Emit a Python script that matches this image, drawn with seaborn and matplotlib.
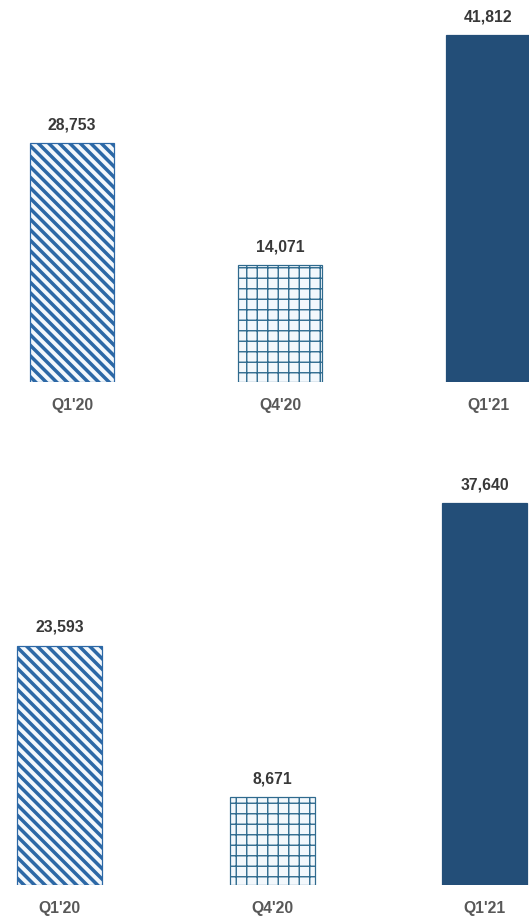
import matplotlib
matplotlib.use("Agg")
import matplotlib.pyplot as plt
import seaborn as sns

# Quarterly figures for the two panels
quarters = ["Q1'20", "Q4'20", "Q1'21"]
top_values = [28753, 14071, 41812]
bottom_values = [23593, 8671, 37640]

hatches = ["\\\\", "+", ""]
face_colors = ["#f3f8fc", "#f3f8fc", "#234e78"]
hatch_colors = ["#2c68a6", "#2f6a8e", "#234e78"]

DPI = 63
W, H = 529, 917

sns.set_theme(style="white")
plt.rcParams["font.family"] = ["Liberation Sans Narrow", "Liberation Sans", "DejaVu Sans"]

fig = plt.figure(figsize=(W / DPI, H / DPI), dpi=DPI)
fig.patch.set_facecolor("white")


def panel(rect, values, xlim, ymax, width):
    ax = fig.add_axes(rect)
    sns.barplot(x=quarters, y=values, hue=quarters, palette=face_colors,
                width=width, legend=False, saturation=1, ax=ax)
    for bar, h, hc in zip(ax.patches, hatches, hatch_colors):
        bar.set_hatch(h)
        bar.set_edgecolor(hc)
        bar.set_linewidth(1.4)
        if hasattr(bar, "set_hatch_linewidth"):
            bar.set_hatch_linewidth(4.0 if h.startswith("\\") else 1.6)
    for cont in ax.containers:
        ax.bar_label(cont, labels=[f"{v:,.0f}" for v in cont.datavalues],
                     padding=12.5, fontsize=18, fontweight="bold", color="#383838")
    ax.set_xlim(*xlim)
    ax.set_ylim(0, ymax)
    ax.set_yticks([])
    ax.set_xlabel("")
    ax.set_ylabel("")
    ax.tick_params(axis="x", length=0, pad=18, labelsize=18, labelcolor="#585858")
    for lab in ax.get_xticklabels():
        lab.set_fontweight("bold")
    for s in ax.spines.values():
        s.set_visible(False)
    ax.set_facecolor("none")
    return ax


plt.rcParams["hatch.linewidth"] = 2.5

# Upper panel: baseline at 382 px from the top, axes reaching the top edge
top_base = 382
panel([0, (H - top_base) / H, 1, top_base / H], top_values,
      (-72 / 208, (W - 72) / 208), 41812 * top_base / 347, 0.405)

# Lower panel: baseline at 885 px from the top
bot_base = 885
bot_h = 440
panel([0, (H - bot_base) / H, 1, bot_h / H], bottom_values,
      (-59.5 / 212.5, (W - 59.5) / 212.5), 37640 * bot_h / 382, 0.4)

fig.savefig("out.png", dpi=DPI, facecolor="white")
